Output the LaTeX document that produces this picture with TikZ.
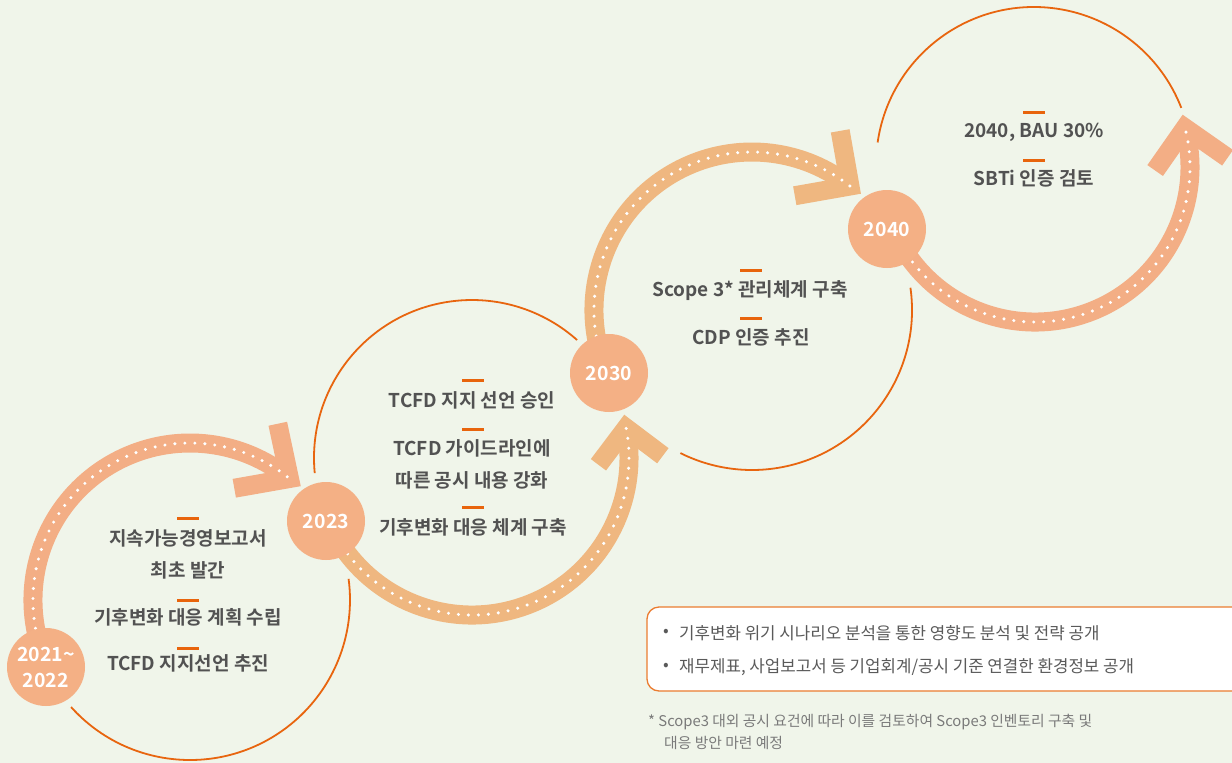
\documentclass[tikz,border=0pt]{standalone}
\usepackage{fontspec}
\setmainfont{Noto Sans CJK KR}
\newfontfamily\bld{Noto Sans CJK KR Bold}
\usetikzlibrary{calc}
\definecolor{bg}{HTML}{F0F5EA}
\definecolor{thinc}{HTML}{E8650F}
\definecolor{bandA}{HTML}{F3AE85}
\definecolor{bandB}{HTML}{EFB780}
\definecolor{nodec}{HTML}{F4B085}
\definecolor{txt}{HTML}{525252}
\definecolor{boxtxt}{HTML}{5A5A5A}
\definecolor{dashc}{HTML}{E8640C}
\definecolor{boxb}{HTML}{EB7C30}
\definecolor{notec}{HTML}{7A7A7A}
\begin{document}
\begin{tikzpicture}[x=1pt,y=1pt,
  thinarc/.style={draw=thinc, line width=1.8pt},
  band/.style={line width=19pt},
  dotline/.style={draw=white, line width=3.4pt, line cap=round, dash pattern=on 0pt off 10pt},
  chev/.style={line width=19pt, line join=miter, line cap=butt},
  year/.style={circle, fill=nodec, minimum size=78pt, inner sep=0pt, text=white, font=\bld\fontsize{19.5}{26}\selectfont, align=center},
  item/.style={text=txt, font=\bld\fontsize{19}{22}\selectfont, inner sep=0pt},
  bar/.style={draw=dashc, line width=3pt},
  boxtext/.style={text=boxtxt, font=\fontsize{16.8}{20}\selectfont, inner sep=0pt, anchor=west},
  note/.style={text=notec, font=\fontsize{14.8}{18}\selectfont, inner sep=0pt, anchor=west},
]
\fill[bg] (0,0) rectangle (1232,-763);
\useasboundingbox (0,0) rectangle (1232,-763);

\coordinate (c1) at (190,-600);
\coordinate (c2) at (472,-458);
\coordinate (c3) at (752,-310);
\coordinate (c4) at (1035,-167);
\coordinate (c4t) at (1034,-165);

% thin arcs
\draw[thinarc] ($(c1)+(222:160)$) arc[start angle=222, end angle=367.6, radius=160];
\draw[thinarc] ($(c2)+(185.5:158)$) arc[start angle=185.5, end angle=48.3, radius=158];
\draw[thinarc] ($(c3)+(8:160)$) arc[start angle=8, end angle=-116.6, radius=160];
\draw[thinarc] ($(c4t)+(171.8:158)$) arc[start angle=171.8, end angle=21.2, radius=158];

% vertices of the chevrons
\coordinate (v1) at ($(c1)+(50.7:157)$);
\coordinate (v2) at ($(c2)+(371:157)$);
\coordinate (v3) at ($(c3)+(51.7:158)$);
\coordinate (v4) at ($(c4)+(374.6:155)$);

% thick arrows
\draw[band, bandA] ($(c1)+(205:157)$) arc[start angle=205, end angle=50.7, radius=157];
\draw[chev, bandA] ($(v1)+(102:56)$) -- (v1) -- ($(v1)+(190:56)$);
\draw[dotline] ($(c1)+(205:157)$) arc[start angle=205, end angle=50.7, radius=157];

\draw[band, bandB] ($(c2)+(203:157)$) arc[start angle=203, end angle=371, radius=157];
\draw[chev, bandB] ($(v2)+(233:46)$) -- (v2) -- ($(v2)+(323:46)$);
\draw[dotline] ($(c2)+(203:157)$) arc[start angle=203, end angle=371, radius=157];

\draw[band, bandB] ($(c3)+(204:158)$) arc[start angle=204, end angle=51.7, radius=158];
\draw[chev, bandB] ($(v3)+(100:56)$) -- (v3) -- ($(v3)+(190:56)$);
\draw[dotline] ($(c3)+(204:158)$) arc[start angle=204, end angle=51.7, radius=158];

\draw[band, bandA] ($(c4)+(203:155)$) arc[start angle=203, end angle=374.6, radius=155];
\draw[chev, bandA] ($(v4)+(235:52)$) -- (v4) -- ($(v4)+(325:52)$);
\draw[dotline] ($(c4)+(203:155)$) arc[start angle=203, end angle=374.6, radius=155];

% year nodes
\node[year] (y1) at (46,-667) {2021\textasciitilde\\2022};
\node[year] (y2) at (326,-521) {2023};
\node[year] (y3) at (609,-373) {2030};
\node[year] (y4) at (887,-229) {2040};

% circle 1 texts
\draw[bar] (177,-518) -- (199,-518);
\node[item] (t11) at (188,-538) {지속가능경영보고서};
\node[item] (t12) at (188,-570) {최초 발간};
\draw[bar] (177,-600) -- (199,-600);
\node[item] (t13) at (188,-617) {기후변화 대응 계획 수립};
\draw[bar] (177,-648) -- (199,-648);
\node[item] (t14) at (188,-663) {TCFD 지지선언 추진};

% circle 2 texts
\draw[bar] (462,-380) -- (484,-380);
\node[item] (t21) at (472,-400) {TCFD 지지 선언 승인};
\draw[bar] (462,-429) -- (484,-429);
\node[item] (t22) at (472,-448) {TCFD 가이드라인에};
\node[item] (t23) at (472,-480) {따른 공시 내용 강화};
\draw[bar] (462,-507) -- (484,-507);
\node[item] (t24) at (473,-527) {기후변화 대응 체계 구축};

% circle 3 texts
\draw[bar] (740,-270) -- (762,-270);
\node[item] (t31) at (750,-291) {Scope 3* 관리체계 구축};
\draw[bar] (740,-318) -- (762,-318);
\node[item] (t32) at (751,-337) {CDP 인증 추진};

% circle 4 texts
\draw[bar] (1023,-112) -- (1045,-112);
\node[item] (t41) at (1034,-132) {2040, BAU 30\%};
\draw[bar] (1023,-160) -- (1045,-160);
\node[item] (t42) at (1034,-178) {SBTi 인증 검토};

% box
\draw[draw=boxb, line width=1.3pt, fill=white, rounded corners=12pt] (647,-607) rectangle (1260,-691);
\node[boxtext] (b1d) at (663,-633) {•};
\node[boxtext] (b1) at (679,-633) {기후변화 위기 시나리오 분석을 통한 영향도 분석 및 전략 공개};
\node[boxtext] (b2d) at (663,-667) {•};
\node[boxtext] (b2) at (679,-667) {재무제표, 사업보고서 등 기업회계/공시 기준 연결한 환경정보 공개};

% footnote
\node[note] (n1) at (648,-722) {* Scope3 대외 공시 요건에 따라 이를 검토하여 Scope3 인벤토리 구축 및};
\node[note] (n2) at (664,-743) {대응 방안 마련 예정};
\end{tikzpicture}
\end{document}
